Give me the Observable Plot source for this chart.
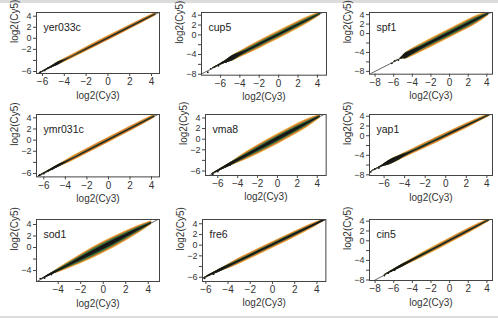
<!DOCTYPE html>
<html><head><meta charset="utf-8">
<script src="https://cdn.jsdelivr.net/npm/d3@7"></script>
<script src="https://cdn.jsdelivr.net/npm/@observablehq/plot@0.6"></script>
<style>
body{margin:0;background:#fff;}
#chart{position:relative;width:498px;height:320px;overflow:hidden;background:#fff;font-family:"Liberation Sans",Arial,sans-serif;}
#chart svg{position:absolute;}
.rule{position:absolute;left:0;width:498px;background:#dcdcdc;}
</style></head><body>
<div id="chart"><div class="rule" style="top:0;height:3px"></div><div class="rule" style="top:316px;height:2px"></div></div>
<script>
// ---------------- data ----------------
const panels = ["yer033c","cup5","spf1","ymr031c","vma8","yap1","sod1","fre6","cin5"];
const xLabel = "log2(Cy3)";
const yLabel = "log2(Cy5)";
const xDomains = [[-6.55,4.73],[-7.95,4.93],[-8.6,4.61],[-6.68,4.74],[-7.24,4.9],[-7.42,4.55],[-5.93,5.0],[-6.3,4.81],[-8.6,4.6]];
const yDomains = [[-6.36,4.67],[-8.2,4.55],[-8.6,4.45],[-6.6,4.6],[-6.85,4.66],[-8.14,4.35],[-5.9,4.87],[-6.8,4.8],[-8.1,4.34]];
const xTicks = [
  [-6,-4,-2,0,2,4],[-6,-4,-2,0,2,4],[-8,-6,-4,-2,0,2,4],
  [-6,-4,-2,0,2,4],[-6,-4,-2,0,2,4],[-6,-4,-2,0,2,4],
  [-4,-2,0,2,4],[-6,-4,-2,0,2,4],[-8,-6,-4,-2,0,2,4]];
const yTickMarks = [
  [4,2,0,-2,-4,-6],[4,2,0,-2,-4,-6,-8],[4,2,0,-2,-4,-6,-8],
  [4,2,0,-2,-4,-6],[4,2,0,-2,-4,-6],[4,2,0,-2,-4,-6,-8],
  [4,2,0,-2,-4],[4,2,0,-2,-4,-6],[4,2,0,-2,-4,-6,-8]];
const yTickLabels = [
  [4,2,0,-2,-6],[4,2,0,-4,-8],[4,2,0,-4,-8],
  [4,2,0,-2,-6],[4,2,0,-2,-6],[4,2,0,-4,-8],
  [4,2,0,-4],[4,2,0,-2,-6],[4,2,0,-4,-8]];
// reference line y = x (abline 0,1)
const diagonal = [-10, 10];
// density cloud along the diagonal: stations (log2 Cy3) and vertical half-widths (log2 units)
const cloudX = [
  [-6.3,-5.2,-4.5,-4,-2,0,2,4.4],
  [-6.8,-5.5,-4.8,-4,-3,-1,1,3,4.3],
  [-6,-5.2,-4.8,-4.3,-3,-1,1,3,4.2],
  [-6.5,-5.5,-4.5,-4,-2,0,2,4.3],
  [-6.6,-5.5,-4.6,-4,-3,-1,1,3,4.3],
  [-7.2,-6.2,-5.6,-4.5,-3.8,-2,0,2,4.3],
  [-5.5,-4.5,-4,-3,-2,0,2,3,4.3],
  [-6.2,-5.2,-4.5,-3.5,-2,0,2,3.8,4.8],
  [-7,-6,-5,-4,-2,0,2,4.3]];
const yellowW = [
  [0.05,0.15,0.3,0.35,0.42,0.45,0.42,0.3],
  [0.08,0.25,0.55,0.65,0.8,0.85,0.85,0.75,0.35],
  [0.05,0.15,0.6,0.8,0.95,1.0,1.0,0.9,0.45],
  [0.06,0.15,0.25,0.38,0.48,0.5,0.5,0.35],
  [0.06,0.2,0.35,0.55,0.8,1.0,1.0,0.85,0.35],
  [0.05,0.15,0.45,0.5,0.55,0.62,0.62,0.58,0.32],
  [0.05,0.2,0.4,0.65,0.85,1.05,0.9,0.75,0.35],
  [0.05,0.2,0.3,0.55,0.62,0.62,0.62,0.45,0.15],
  [0.05,0.2,0.3,0.45,0.58,0.58,0.58,0.32]];
const orangeW = [
  [0.05,0.15,0.3,0.3,0.35,0.38,0.35,0.25],
  [0.08,0.25,0.55,0.6,0.68,0.7,0.7,0.6,0.3],
  [0.05,0.15,0.6,0.75,0.8,0.85,0.85,0.75,0.35],
  [0.06,0.15,0.25,0.32,0.4,0.42,0.42,0.28],
  [0.06,0.2,0.35,0.5,0.68,0.85,0.85,0.7,0.3],
  [0.05,0.15,0.45,0.5,0.45,0.5,0.5,0.45,0.25],
  [0.05,0.2,0.35,0.55,0.75,0.92,0.8,0.65,0.3],
  [0.05,0.2,0.3,0.48,0.52,0.52,0.52,0.38,0.15],
  [0.05,0.2,0.3,0.4,0.45,0.45,0.45,0.25]];
const greenW = [
  [0.05,0.15,0.3,0.15,0.12,0.12,0.12,0.08],
  [0.08,0.25,0.55,0.45,0.45,0.45,0.45,0.4,0.15],
  [0.05,0.15,0.6,0.6,0.55,0.6,0.6,0.5,0.2],
  [0.06,0.15,0.25,0.18,0.15,0.15,0.15,0.1],
  [0.06,0.2,0.35,0.4,0.45,0.6,0.6,0.45,0.15],
  [0.05,0.15,0.45,0.45,0.3,0.25,0.25,0.22,0.12],
  [0.05,0.2,0.25,0.4,0.55,0.7,0.58,0.45,0.15],
  [0.05,0.2,0.3,0.3,0.3,0.3,0.3,0.22,0.15],
  [0.05,0.2,0.3,0.25,0.22,0.22,0.22,0.1]];
const blackW = [
  [0.05,0.15,0.28,0.1,0.07,0.07,0.07,0.04],
  [0.08,0.25,0.5,0.35,0.2,0.2,0.2,0.15,0.06],
  [0.05,0.15,0.55,0.5,0.3,0.3,0.3,0.25,0.08],
  [0.06,0.15,0.22,0.12,0.07,0.07,0.07,0.05],
  [0.06,0.2,0.3,0.28,0.25,0.35,0.35,0.22,0.06],
  [0.05,0.15,0.42,0.42,0.2,0.12,0.12,0.12,0.05],
  [0.05,0.2,0.15,0.2,0.3,0.4,0.3,0.2,0.06],
  [0.05,0.2,0.28,0.18,0.16,0.16,0.16,0.15,0.15],
  [0.05,0.2,0.28,0.18,0.1,0.1,0.1,0.05]];
// sparse low-intensity spots
const tailX = [
  [-6.2,-5.8,-5.5,-5.2,-4.9],
  [-7.3,-7.0,-6.6,-6.2,-5.8,-5.4],
  [-6.2,-5.9,-5.5,-5.2,-5.0],
  [-6.4,-6.0,-5.6,-5.2,-4.8],
  [-6.5,-6.0,-5.6,-5.1,-4.8],
  [-7.3,-6.9,-6.5,-6.1],
  [-5.6,-5.2,-4.9,-4.6,-4.3],
  [-6.1,-5.7,-5.3,-5.0],
  [-7.0,-6.6,-6.3,-5.9]];
const tailY = [
  [-6.1,-5.8,-5.4,-5.1,-4.8],
  [-7.6,-6.9,-6.5,-6.3,-5.6,-5.5],
  [-6.3,-5.8,-5.6,-5.1,-4.9],
  [-6.3,-6.0,-5.5,-5.2,-4.7],
  [-6.6,-6.1,-5.4,-5.0,-4.9],
  [-7.4,-6.8,-6.6,-6.0],
  [-5.4,-5.3,-4.8,-4.7,-4.2],
  [-6.2,-5.6,-5.4,-4.9],
  [-7.1,-6.6,-6.2,-6.0]];

// ---------------- layout & style ----------------
const frames = [
  [36,12,123,61],[200.7,12.3,125,62.7],[368.7,12.3,123,61.7],
  [36,114.3,123,62.4],[205,114,120.7,61],[368.7,114,123,61],
  [36,219,123,62],[202.3,219,123.4,62],[368.7,219,123,61]];
const M = {l: 40, t: 12, r: 6, b: 32};
const colors = {yellow: "#efcd62", orange: "#dc7a34", green: "#3a743a", black: "#151515"};
const fmt = d => d < 0 ? "\u2212" + Math.abs(d) : String(d);
const chart = document.getElementById("chart");

panels.forEach((name, i) => {
  const [fl, ft, fw, fh] = frames[i];
  const band = (W, fill) => Plot.areaY(cloudX[i].map((x, j) => ({x, w: W[i][j]})), {
    x: "x", y1: d => d.x - d.w, y2: d => d.x + d.w, fill, curve: "monotone-x", clip: true
  });
  const labels = new Set(yTickLabels[i]);
  const svg = Plot.plot({
    width: fw + M.l + M.r,
    height: fh + M.t + M.b,
    marginLeft: M.l, marginTop: M.t, marginRight: M.r, marginBottom: M.b,
    style: {background: "transparent", color: "#333", fontFamily: "'Liberation Sans', Arial, sans-serif", fontSize: "10px", overflow: "visible"},
    x: {domain: xDomains[i]},
    y: {domain: yDomains[i]},
    marks: [
      band(yellowW, colors.yellow),
      band(orangeW, colors.orange),
      band(greenW, colors.green),
      band(blackW, colors.black),
      Plot.dot(tailX[i].map((x, j) => ({x, y: tailY[i][j]})), {x: "x", y: "y", r: 0.9, fill: colors.black, clip: true}),
      Plot.line(diagonal, {x: d => d, y: d => d, stroke: "#222", strokeWidth: 0.7, clip: true}),
      Plot.frame({stroke: "#444", strokeWidth: 1}),
      Plot.axisX(xTicks[i], {tickSize: 3, tickPadding: 1.5, tickFormat: fmt, fontSize: 10, label: null, stroke: "#444"}),
      Plot.axisY(yTickMarks[i], {tickSize: 3, tickPadding: 2, tickFormat: d => labels.has(d) ? fmt(d) : "", fontSize: 9, label: null, stroke: "#444"}),
      Plot.text([xLabel], {text: d => d, frameAnchor: "bottom", dy: 25, fontSize: 10, fill: "#333"}),
      Plot.text([yLabel], {text: d => d, frameAnchor: "left", dx: -22, rotate: -90, fontSize: 10, fill: "#333"}),
      Plot.text([name], {text: d => d, frameAnchor: "top-left", dx: 7, dy: 11, textAnchor: "start", fontSize: 10.5, fill: "#222"})
    ]
  });
  svg.style.left = (fl - M.l) + "px";
  svg.style.top = (ft - M.t) + "px";
  svg.style.maxWidth = "none";
  chart.appendChild(svg);
});
</script></body></html>
